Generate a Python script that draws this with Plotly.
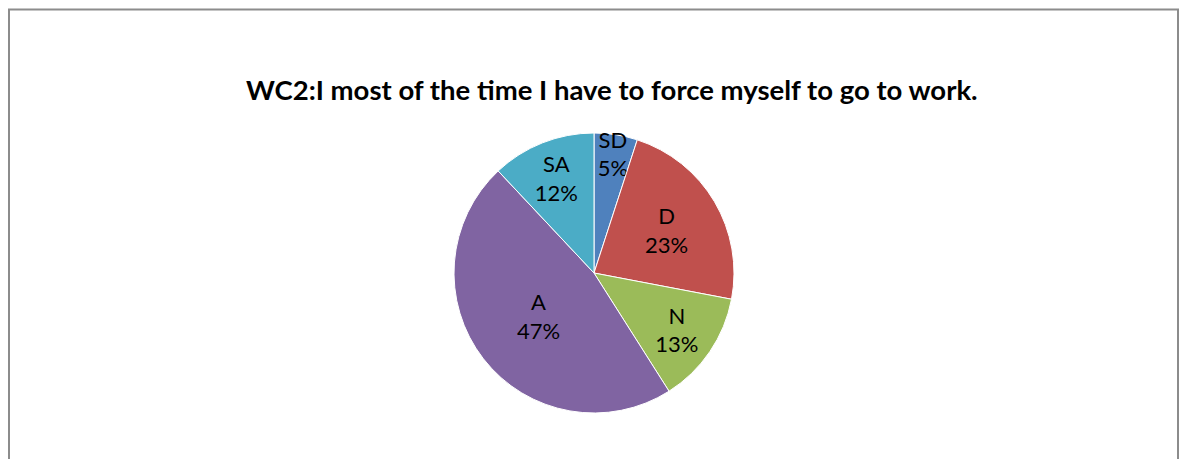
import plotly.graph_objects as go

labels = ["SD", "D", "N", "A", "SA"]
values = [5, 23, 13, 47, 12]
colors = ["#4F81BD", "#C0504D", "#9BBB59", "#8064A2", "#4BACC6"]
title_text = "WC2:I most of the time I have to force myself to go to work."

W, H = 1182, 459
cx, cy, r = 594, 273, 140

fig = go.Figure(go.Pie(
    labels=labels,
    values=values,
    sort=False,
    direction="clockwise",
    rotation=0,
    marker=dict(colors=colors, line=dict(color="white", width=1)),
    texttemplate="%{label}<br>%{percent:.0%}",
    textposition="inside",
    insidetextorientation="horizontal",
    textfont=dict(family="Lato, sans-serif", size=22, color="black"),
    domain=dict(x=[(cx - r) / W, (cx + r) / W], y=[(H - cy - r) / H, (H - cy + r) / H]),
    showlegend=False,
    hoverinfo="label+percent",
))

fig.update_layout(
    width=W, height=H,
    margin=dict(l=0, r=0, t=0, b=0),
    paper_bgcolor="white",
    uniformtext=dict(minsize=22, mode="show"),
    annotations=[dict(
        text="<b>" + title_text + "</b>",
        x=612 / W, y=1 - 90 / H, xref="paper", yref="paper",
        xanchor="center", yanchor="middle", showarrow=False,
        font=dict(family="Lato, sans-serif", size=27.5, color="black"),
    )],
    shapes=[dict(
        type="rect", xref="paper", yref="paper",
        x0=9 / W, x1=1178 / W, y0=-0.1, y1=1 - 9.5 / H,
        line=dict(color="#8C8C8C", width=2),
    )],
)

fig.write_html(
    "out.html",
    config={"displayModeBar": False},
    post_script="document.body.style.margin='0px';document.body.style.overflow='hidden';",
)
